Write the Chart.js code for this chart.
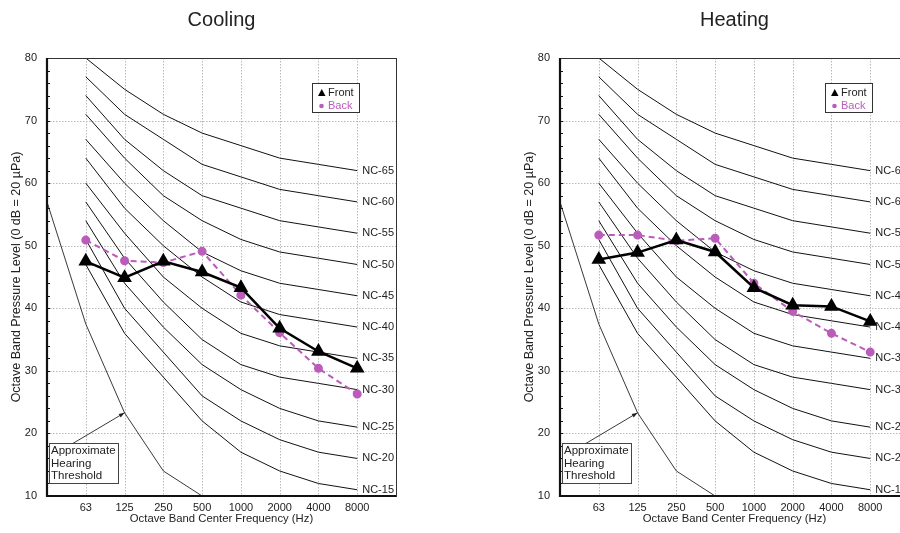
<!DOCTYPE html>
<html>
<head>
<meta charset="utf-8">
<script src="https://cdn.jsdelivr.net/npm/chart.js@4.4.1/dist/chart.umd.min.js"></script>
<style>
  body { margin:0; background:#fff; overflow:hidden; width:900px; height:533px; position:relative; }
  .panel { position:absolute; top:0; width:513px; height:533px; }
</style>
</head>
<body>
<div class="panel" style="left:0"><canvas id="cooling" width="513" height="533"></canvas></div>
<div class="panel" style="left:513px"><canvas id="heating" width="513" height="533"></canvas></div>
<script>
// ── Data ─────────────────────────────────────────────────────────
const freqLabels = ["63", "125", "250", "500", "1000", "2000", "4000", "8000"];
const levelTicks = [10, 20, 30, 40, 50, 60, 70, 80];

const ncNames = ["NC-15", "NC-20", "NC-25", "NC-30", "NC-35", "NC-40", "NC-45", "NC-50", "NC-55", "NC-60", "NC-65"];
const nc15 = [47, 36, 29, 22, 17, 14, 12, 11];
const nc20 = [51, 40, 33, 26, 22, 19, 17, 16];
const nc25 = [54, 44, 37, 31, 27, 24, 22, 21];
const nc30 = [57, 48, 41, 35, 31, 29, 28, 27];
const nc35 = [60, 52, 45, 40, 36, 34, 33, 32];
const nc40 = [64, 56, 50, 45, 41, 39, 38, 37];
const nc45 = [67, 60, 54, 49, 46, 44, 43, 42];
const nc50 = [71, 64, 58, 54, 51, 49, 48, 47];
const nc55 = [74, 67, 62, 58, 56, 54, 53, 52];
const nc60 = [77, 71, 67, 63, 61, 59, 58, 57];
const nc65 = [80, 75, 71, 68, 66, 64, 63, 62];
const ncCurves = [nc15, nc20, nc25, nc30, nc35, nc40, nc45, nc50, nc55, nc60, nc65];

// band index -1 is the left edge of the plot
const thresholdBand = [-1, 0, 1, 2, 3];
const thresholdLevel = [57, 37.5, 23.3, 14, 10];

const coolingFront = [47.5, 44.9, 47.5, 45.8, 43.3, 36.8, 33.1, 30.4];
const coolingBack  = [50.9, 47.6, 47.3, 49.1, 42.1, 36.1, 30.4, 26.3];
const heatingFront = [47.8, 48.9, 50.9, 49.0, 43.3, 40.5, 40.3, 37.9];
const heatingBack  = [51.7, 51.7, 50.8, 51.2, 44.0, 39.5, 36.0, 33.0];

// ── Styles ───────────────────────────────────────────────────────
const MAGENTA = "#bb5cbb";
const INK = "#222";
const FONT = "Arial, 'Liberation Sans', sans-serif";

const toXY = (vals) => vals.map((v, i) => ({ x: i, y: v }));

// ── Decorations: grid, frame, labels, legend, threshold note ─────
function decorPlugin(title) {
  return {
    id: "decor",
    beforeDatasetsDraw(chart) {
      const { ctx, chartArea: a, scales: { x, y } } = chart;
      ctx.save();
      ctx.strokeStyle = "#b8b8b8";
      ctx.lineWidth = 1;
      ctx.setLineDash([1.5, 1.5]);
      freqLabels.forEach((_, i) => {
        const px = Math.round(x.getPixelForValue(i)) + 0.5;
        ctx.beginPath(); ctx.moveTo(px, a.top); ctx.lineTo(px, a.bottom); ctx.stroke();
      });
      levelTicks.slice(1, -1).forEach(v => {
        const py = Math.round(y.getPixelForValue(v)) + 0.5;
        ctx.beginPath(); ctx.moveTo(a.left, py); ctx.lineTo(a.right, py); ctx.stroke();
      });
      ctx.restore();
    },
    afterDraw(chart) {
      const { ctx, chartArea: a, scales: { x, y } } = chart;
      ctx.save();

      // frame
      ctx.strokeStyle = "#333";
      ctx.lineWidth = 1;
      ctx.strokeRect(a.left + 0.5, a.top + 0.5, a.right - a.left, a.bottom - a.top);
      ctx.strokeStyle = "#111";
      ctx.lineWidth = 2.2;
      ctx.beginPath();
      ctx.moveTo(a.left, a.top); ctx.lineTo(a.left, a.bottom); ctx.lineTo(a.right, a.bottom);
      ctx.stroke();

      // minor ticks on the level axis (every 2 dB)
      ctx.lineWidth = 1;
      for (let v = 12; v < 80; v += 2) {
        const py = Math.round(y.getPixelForValue(v)) + 0.5;
        ctx.beginPath(); ctx.moveTo(a.left, py); ctx.lineTo(a.left + 3, py); ctx.stroke();
      }

      // NC curve names
      ctx.fillStyle = INK;
      ctx.font = "11px " + FONT;
      ctx.textBaseline = "middle";
      ctx.textAlign = "left";
      ncCurves.forEach((c, k) => {
        ctx.fillText(ncNames[k], x.getPixelForValue(7) + 5, y.getPixelForValue(c[7]));
      });

      // legend
      const lx = a.right - 84, ly = a.top + 25;
      ctx.fillStyle = "#fff";
      ctx.fillRect(lx, ly, 47, 29);
      ctx.strokeStyle = "#333";
      ctx.strokeRect(lx + 0.5, ly + 0.5, 47, 29);
      ctx.fillStyle = "#000";
      ctx.beginPath();
      ctx.moveTo(lx + 6, ly + 13); ctx.lineTo(lx + 13.5, ly + 13); ctx.lineTo(lx + 9.75, ly + 6);
      ctx.closePath(); ctx.fill();
      ctx.fillStyle = INK;
      ctx.fillText("Front", lx + 16, ly + 9.5);
      ctx.fillStyle = MAGENTA;
      ctx.beginPath(); ctx.arc(lx + 9.5, ly + 23, 2.3, 0, Math.PI * 2); ctx.fill();
      ctx.fillText("Back", lx + 16, ly + 23);

      // hearing threshold note + arrow
      const ax0 = x.getPixelForValue(-0.36), ay0 = y.getPixelForValue(18.3);
      const ax1 = x.getPixelForValue(1), ay1 = y.getPixelForValue(23.3);
      ctx.strokeStyle = "#222";
      ctx.fillStyle = "#222";
      ctx.lineWidth = 0.9;
      ctx.beginPath(); ctx.moveTo(ax0, ay0); ctx.lineTo(ax1, ay1); ctx.stroke();
      const ang = Math.atan2(ay1 - ay0, ax1 - ax0);
      ctx.beginPath();
      ctx.moveTo(ax1, ay1);
      ctx.lineTo(ax1 - 6 * Math.cos(ang - 0.35), ay1 - 6 * Math.sin(ang - 0.35));
      ctx.lineTo(ax1 - 6 * Math.cos(ang + 0.35), ay1 - 6 * Math.sin(ang + 0.35));
      ctx.closePath(); ctx.fill();

      const bx = a.left + 2, by = a.bottom - 53;
      ctx.fillStyle = "#fff";
      ctx.fillRect(bx, by, 69, 40);
      ctx.strokeStyle = "#444";
      ctx.lineWidth = 1;
      ctx.strokeRect(bx + 0.5, by + 0.5, 69, 40);
      ctx.fillStyle = INK;
      ctx.font = "11.5px " + FONT;
      ["Approximate", "Hearing", "Threshold"].forEach((t, i) => ctx.fillText(t, bx + 2, by + 8 + i * 12.5));

      // titles
      ctx.textAlign = "center";
      ctx.font = "20px " + FONT;
      ctx.fillText(title, (a.left + a.right) / 2, 20);
      ctx.font = "11.3px " + FONT;
      ctx.fillText("Octave Band Center Frequency (Hz)", (a.left + a.right) / 2, 519);
      ctx.font = "12.5px " + FONT;
      ctx.translate(17, (a.top + a.bottom) / 2);
      ctx.rotate(-Math.PI / 2);
      ctx.fillText("Octave Band Pressure Level (0 dB = 20 \u00b5Pa)", 0, 0);

      ctx.restore();
    }
  };
}

// ── Chart factory ────────────────────────────────────────────────
function makeChart(canvasId, title, front, back) {
  const datasets = [
    {
      data: toXY(front), borderColor: "#000", backgroundColor: "#000", borderWidth: 2.5,
      pointStyle: "triangle", pointRadius: 6, order: 0
    },
    {
      data: toXY(back), borderColor: MAGENTA, backgroundColor: MAGENTA, borderWidth: 2,
      borderDash: [6, 4], pointStyle: "circle", pointRadius: 3.5, order: 1
    },
    {
      data: thresholdBand.map((b, i) => ({ x: b, y: thresholdLevel[i] })),
      borderColor: "#222", borderWidth: 0.9, pointRadius: 0, order: 3
    }
  ];
  ncCurves.forEach(c => datasets.push({
    data: toXY(c), borderColor: "#111", borderWidth: 1, pointRadius: 0, order: 2
  }));

  return new Chart(document.getElementById(canvasId), {
    type: "line",
    data: { datasets },
    options: {
      responsive: false,
      animation: false,
      devicePixelRatio: 1,
      layout: { padding: { top: 58, right: 117, bottom: 0, left: 0 } },
      plugins: { legend: { display: false }, tooltip: { enabled: false } },
      elements: { line: { tension: 0 } },
      scales: {
        x: {
          type: "linear", min: -1, max: 8,
          grid: { display: false, drawTicks: false },
          border: { display: false },
          afterFit: s => { s.height = 37; },
          ticks: {
            stepSize: 1, autoSkip: false, maxRotation: 0, padding: 5,
            color: INK, font: { family: FONT, size: 11 },
            callback: v => freqLabels[v] ?? ""
          }
        },
        y: {
          min: 10, max: 80,
          grid: { display: false, drawTicks: false },
          border: { display: false },
          afterFit: s => { s.width = 47; },
          ticks: {
            stepSize: 10, padding: 10,
            color: INK, font: { family: FONT, size: 11 },
            callback: v => levelTicks.includes(v) ? String(v) : ""
          }
        }
      }
    },
    plugins: [decorPlugin(title)]
  });
}

makeChart("cooling", "Cooling", coolingFront, coolingBack);
makeChart("heating", "Heating", heatingFront, heatingBack);
</script>
</body>
</html>
